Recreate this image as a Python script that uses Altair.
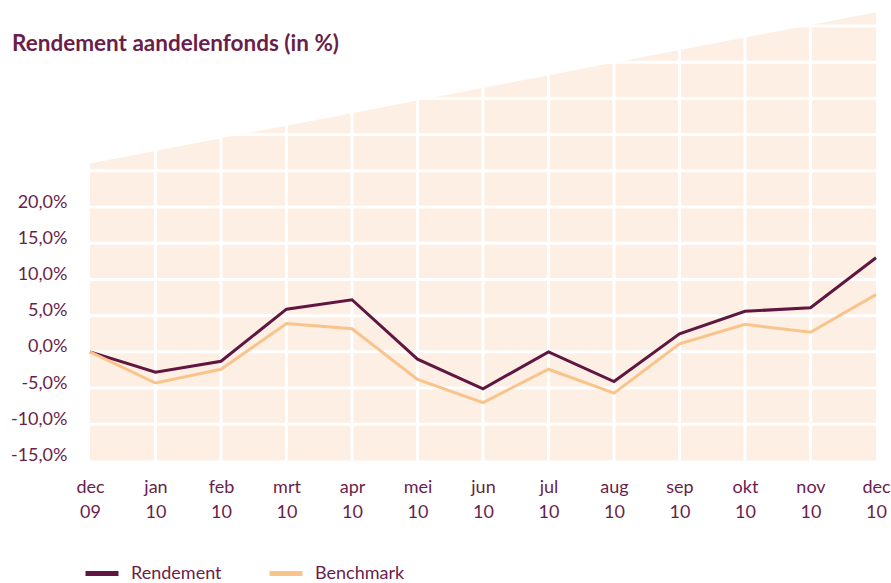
import altair as alt
import pandas as pd

# ---- data ----
months = ["dec 09", "jan 10", "feb 10", "mrt 10", "apr 10", "mei 10", "jun 10",
          "jul 10", "aug 10", "sep 10", "okt 10", "nov 10", "dec 10"]
rendement = [0.0, -2.8, -1.3, 5.9, 7.2, -1.0, -5.1, 0.0, -4.1, 2.5, 5.6, 6.1, 13.0]
benchmark = [0.0, -4.3, -2.4, 3.9, 3.2, -3.8, -7.0, -2.4, -5.7, 1.1, 3.8, 2.7, 7.9]
series_names = ["Rendement", "Benchmark"]
y_ticks = [-15, -10, -5, 0, 5, 10, 15, 20]
grid_y = [-10, -5, 0, 5, 10, 15, 20, 25, 30, 35, 40, 45]
bg_months = ["dec 09", "dec 10"]
bg_top = [26.0, 46.9]
bg_bottom = [-15, -15]
title_text = ["Rendement aandelenfonds (in %)"]

# ---- styling ----
PURPLE = "#6a1e4b"
LINE_DARK = "#5f1742"
LINE_LIGHT = "#f9c48c"
PEACH = "#fdefe3"
FONT = "Lato"
W, H = 786, 449
Y_DOMAIN = [-15, 47]

xscale = alt.Scale(domain=months, type="point", padding=0)
yscale = alt.Scale(domain=Y_DOMAIN, nice=False, zero=False)

x_axis = alt.Axis(labelExpr="split(datum.label, ' ')", labelLineHeight=25,
                  labelFontSize=18, labelColor=PURPLE, labelFont=FONT,
                  labelPadding=18, labelBaseline="top", ticks=False,
                  domain=False, grid=False, labelAngle=0, title=None)
y_axis = alt.Axis(values=y_ticks, ticks=False, domain=False, grid=False,
                  labelExpr="(datum.value < 0 ? '-' : '') + abs(datum.value) + ',0%'",
                  labelFontSize=18, labelColor=PURPLE, labelFont=FONT,
                  labelPadding=23, labelOffset=-5, title=None)

bg_df = pd.DataFrame({"m": bg_months, "top": bg_top, "bottom": bg_bottom})
vgrid_df = pd.DataFrame({"m": months[1:-1], "lo": Y_DOMAIN[0], "hi": Y_DOMAIN[1]})
hgrid_df = pd.DataFrame({"v": grid_y})
lines_df = pd.DataFrame({
    "m": months * 2,
    "value": rendement + benchmark,
    "series": [series_names[0]] * len(months) + [series_names[1]] * len(months),
    "order": list(range(len(months))) * 2,
})

area = alt.Chart(bg_df).mark_area(color=PEACH, opacity=1).encode(
    x=alt.X("m:N", scale=xscale, sort=months, axis=x_axis),
    y=alt.Y("top:Q", scale=yscale, axis=y_axis),
    y2="bottom:Q",
)

vgrid = alt.Chart(vgrid_df).mark_rule(color="white", strokeWidth=3).encode(
    x=alt.X("m:N", scale=xscale, sort=months, axis=x_axis),
    y=alt.Y("lo:Q", scale=yscale, axis=y_axis),
    y2="hi:Q",
)

hgrid = alt.Chart(hgrid_df).mark_rule(color="white", strokeWidth=3).encode(
    y=alt.Y("v:Q", scale=yscale, axis=y_axis),
    x=alt.value(0),
    x2=alt.value(W),
)

lines = alt.Chart(lines_df).mark_line(strokeWidth=3, strokeCap="butt").encode(
    x=alt.X("m:N", scale=xscale, sort=months, axis=x_axis),
    y=alt.Y("value:Q", scale=yscale, axis=y_axis),
    order="order:Q",
    color=alt.Color("series:N",
                    scale=alt.Scale(domain=series_names, range=[LINE_DARK, LINE_LIGHT]),
                    legend=alt.Legend(title=None, orient="none", direction="horizontal",
                                      legendX=-7, legendY=543, symbolType="stroke",
                                      symbolSize=1089, symbolStrokeWidth=5,
                                      labelFontSize=18, labelColor=PURPLE, labelFont=FONT,
                                      labelOffset=10, columnPadding=37, padding=0)),
)

title = alt.Chart(pd.DataFrame({"t": title_text})).mark_text(
    align="left", baseline="alphabetic", font=FONT, fontSize=22.5,
    fontWeight="bold", color=PURPLE,
).encode(text="t:N", x=alt.value(-78), y=alt.value(39.2))

chart = alt.layer(area, vgrid, hgrid, lines, title).properties(
    width=W, height=H,
    autosize=alt.AutoSizeParams(type="none"),
    padding={"left": 90, "top": 11.5, "right": 15, "bottom": 122.5},
).configure(background="white").configure_view(stroke=None)

chart.save("out.html", embed_options={"renderer": "svg", "actions": False})
